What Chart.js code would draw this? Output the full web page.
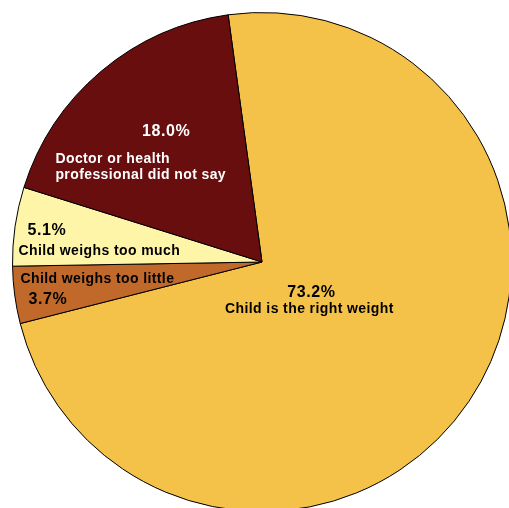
<!DOCTYPE html>
<html>
<head>
<meta charset="utf-8">
<script src="https://cdn.jsdelivr.net/npm/chart.js@4/dist/chart.umd.min.js"></script>
<style>
  html, body { margin: 0; padding: 0; background: #fff; overflow: hidden; width: 509px; height: 508px; }
  #wrap { position: absolute; left: 0; top: 0; width: 524px; height: 524px; }
</style>
</head>
<body>
<div id="wrap"><canvas id="c"></canvas></div>
<script>
// ---- data ----
const categories = [
  'Child is the right weight',
  'Child weighs too little',
  'Child weighs too much',
  'Doctor or health professional did not say'
];
const values = [73.2, 3.7, 5.1, 18.0];
const nameLines = [
  ['Child is the right weight'],
  ['Child weighs too little'],
  ['Child weighs too much'],
  ['Doctor or health', 'professional did not say']
];
const colors = ['#F5C249', '#C0692B', '#FFF5A9', '#690E0E'];

// label layout (offsets relative to pie centre, in units of radius; baselines)
const labelLayout = [
  { align: 'center', color: '#000', pct: [0.198, 0.140], names: [[0.190, 0.204]], pctFirst: true },
  { align: 'left',   color: '#000', pct: [-0.936, 0.168], names: [[-0.968, 0.084]] },
  { align: 'left',   color: '#000', pct: [-0.940, -0.108], names: [[-0.976, -0.028]] },
  { align: 'left',   color: '#fff', pct: [-0.384, -0.504], pctAlign: 'center', names: [[-0.828, -0.396], [-0.828, -0.332]] }
];

const labelPlugin = {
  id: 'sliceLabels',
  afterDatasetsDraw(chart) {
    const meta = chart.getDatasetMeta(0);
    const arc0 = meta.data[0];
    const cx = arc0.x, cy = arc0.y, R = arc0.outerRadius;
    const ctx = chart.ctx;
    ctx.save();
    ctx.textBaseline = 'alphabetic';
    values.forEach((v, i) => {
      const L = labelLayout[i];
      ctx.fillStyle = L.color;
      ctx.font = 'bold 16px "Liberation Sans", Arial, sans-serif';
      ctx.letterSpacing = '0.6px';
      ctx.textAlign = L.pctAlign || L.align;
      ctx.fillText(v.toFixed(1) + '%', cx + L.pct[0] * R, cy + L.pct[1] * R);
      ctx.font = 'bold 14px "Liberation Sans", Arial, sans-serif';
      ctx.letterSpacing = '0.4px';
      ctx.textAlign = L.align;
      nameLines[i].forEach((t, j) => {
        const p = L.names[j];
        ctx.fillText(t, cx + p[0] * R, cy + p[1] * R);
      });
    });
    ctx.restore();
  }
};

new Chart(document.getElementById('c'), {
  type: 'pie',
  data: {
    labels: categories,
    datasets: [{
      data: values,
      backgroundColor: colors,
      borderColor: '#000',
      borderWidth: 1
    }]
  },
  options: {
    responsive: true,
    maintainAspectRatio: false,
    animation: false,
    rotation: -7.8,
    layout: { padding: 12 },
    plugins: {
      legend: { display: false },
      tooltip: { enabled: false }
    }
  },
  plugins: [labelPlugin]
});
</script>
</body>
</html>
